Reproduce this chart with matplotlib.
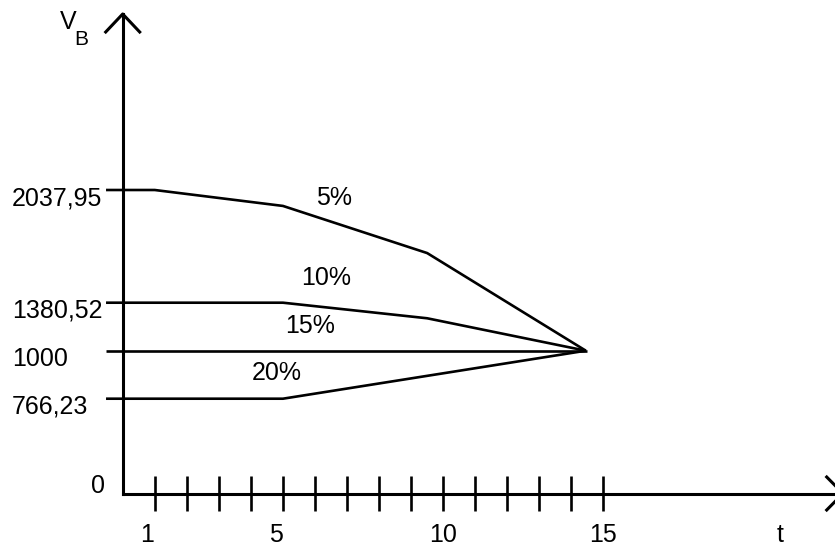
import numpy as np
import matplotlib
matplotlib.use('Agg')
import matplotlib.pyplot as plt

plt.rcParams['font.family'] = ['Liberation Sans', 'DejaVu Sans']

# niveis marcados no eixo V_B
y_ticks = [0, 766.23, 1000, 1380.52, 2037.95]
y_tick_labels = ['0', '766,23', '1000', '1380,52', '2037,95']

# curvas (t, V_B) para cada taxa
curvas = {
    '5%':  ([-0.52, 1, 5, 9.5, 14.45], [2037.95, 2037.95, 1945, 1670, 1000]),
    '10%': ([-0.52, 5, 9.5, 14.45], [1380.52, 1380.52, 1257, 1000]),
    '15%': ([-0.52, 14.5], [1000, 1000]),
    '20%': ([-0.52, 5, 14.45], [766.23, 766.23, 1000]),
}
# onde vai o rotulo de cada curva (t, V_B)
rotulos = {
    '5%': (6.59, 1991),
    '10%': (6.34, 1527),
    '15%': (5.84, 1196),
    '20%': (4.81, 891),
}

x_ticks = list(range(1, 16))
x_labels = ['1', '5', '10', '15']
x_label_pos = [0.77, 4.77, 10, 15]

# escala do desenho (nao linear): valor -> altura em px acima do eixo
escala_val = [0, 766.23, 1000, 1380.52, 2037.95, 6000]
escala_px = [0, 94.8, 142.8, 190.8, 303.5, 303.5 + (6000 - 2037.95) * 0.17143]


def fwd(v):
    return np.interp(v, escala_val, escala_px)


def inv(p):
    return np.interp(p, escala_px, escala_val)


W, H = 835, 546
fig = plt.figure(figsize=(W / 100, H / 100), dpi=100)
x0, y0 = 122.7, 493.5
px_t = 32.05
ax_w = W - x0
ax_h = y0 - 14
ax = fig.add_axes([x0 / W, (H - y0) / H, ax_w / W, ax_h / H])
ax.set_yscale('function', functions=(fwd, inv))
ax.set_xlim(0, ax_w / px_t)
ax.set_ylim(0, inv(ax_h))
ax.axis('off')

FS = 18
LW = 1.9
k = 'black'

# curvas
for nome, (t, v) in curvas.items():
    ax.plot(t, v, color=k, lw=LW, clip_on=False, solid_capstyle='butt')
for nome, (t, v) in rotulos.items():
    ax.text(t, v, nome, fontsize=FS, ha='center', va='center')

# eixos com setas
tip_x = (843 - x0) / ax_w
ax.plot([0, 0], [0, 1], color=k, lw=2.2, transform=ax.transAxes, clip_on=False)
ax.plot([0, tip_x], [0, 0], color=k, lw=2.2, transform=ax.transAxes, clip_on=False)
ax.plot([-17 / ax_w, 0, 17 / ax_w], [1 - 18 / ax_h, 1, 1 - 18 / ax_h],
        color=k, lw=2.2, transform=ax.transAxes, clip_on=False)
ax.plot([tip_x - 16.3 / ax_w, tip_x, tip_x - 16.3 / ax_w],
        [16.5 / ax_h, 0, -16.5 / ax_h],
        color=k, lw=2.2, transform=ax.transAxes, clip_on=False)

# tracos no eixo t
ax.vlines(x_ticks, -17.5 / ax_h, 17.5 / ax_h, color=k, lw=1.9,
          transform=ax.get_xaxis_transform(), clip_on=False)
ly = (y0 - 535) / ax_h
for lab, t in zip(x_labels, x_label_pos):
    ax.text(t, ly, lab, fontsize=FS, ha='center', va='center',
            transform=ax.get_xaxis_transform())
ax.text(20.5, ly, 't', fontsize=FS, ha='center', va='center',
        transform=ax.get_xaxis_transform())

# rotulos do eixo V_B
for v, lab in zip(y_ticks, y_tick_labels):
    if v == 0:
        ax.annotate(lab, xy=((97.5 - x0) / ax_w, 0), xycoords=('axes fraction', 'data'),
                    xytext=(0, 5.4), textcoords='offset points',
                    fontsize=FS, ha='center', va='center')
    else:
        ax.annotate(lab, xy=((12 - x0) / ax_w, v), xycoords=('axes fraction', 'data'),
                    xytext=(0, -5.8), textcoords='offset points',
                    fontsize=FS, ha='left', va='center')

fig.text(68.3 / W, 1 - 21.7 / H, 'V', fontsize=FS, ha='center', va='center')
fig.text(81.7 / W, 1 - 39.3 / H, 'B', fontsize=15, ha='center', va='center')

fig.savefig('out.png', dpi=100)
